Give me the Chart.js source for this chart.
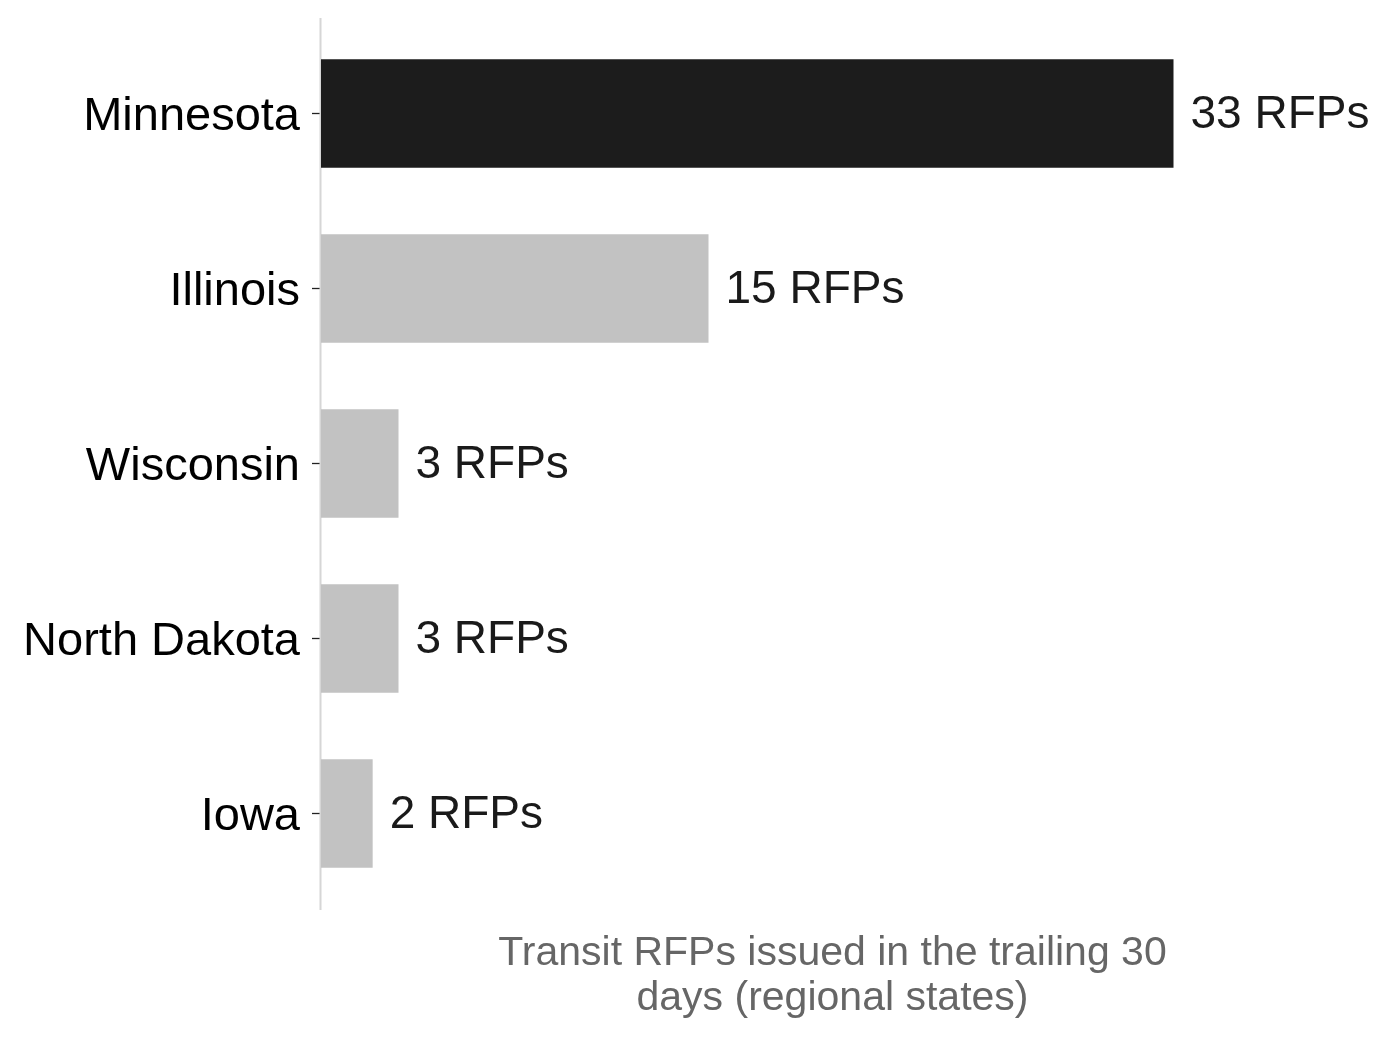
<!DOCTYPE html>
<html lang="en">
<head>
  <meta charset="UTF-8">
  <title>Transit RFPs by State</title>
  <script src="https://cdn.jsdelivr.net/npm/chart.js"></script>
  <style>
    html, body { margin: 0; padding: 0; background: #fff; }
    canvas { display: block; }
  </style>
</head>
<body>
  <canvas id="rfpChart" width="1389" height="1039"></canvas>

  <script>
    // Data
    const states = ['Minnesota', 'Illinois', 'Wisconsin', 'North Dakota', 'Iowa'];
    const rfpCounts = [33, 15, 3, 3, 2];
    const valueLabels = rfpCounts.map(v => v + ' RFPs');
    const barColors = ['#1c1c1c', '#c2c2c2', '#c2c2c2', '#c2c2c2', '#c2c2c2'];
    const axisTitle = ['Transit RFPs issued in the trailing 30', 'days (regional states)'];

    const FONT = "'Liberation Sans', Arial, Helvetica, sans-serif";

    // Left axis line runs a little past the plot area, like the original
    const axisLine = {
      id: 'axisLine',
      beforeDatasetsDraw(chart) {
        const { ctx, chartArea } = chart;
        ctx.save();
        ctx.strokeStyle = '#d6d6d6';
        ctx.lineWidth = 2;
        ctx.beginPath();
        ctx.moveTo(chartArea.left - 0.5, chartArea.top - 8);
        ctx.lineTo(chartArea.left - 0.5, chartArea.bottom + 9);
        ctx.stroke();
        ctx.restore();
      }
    };

    // "NN RFPs" text to the right of each bar
    const barLabels = {
      id: 'barLabels',
      afterDatasetsDraw(chart) {
        const { ctx } = chart;
        const meta = chart.getDatasetMeta(0);
        ctx.save();
        ctx.font = '46px ' + FONT;
        ctx.fillStyle = '#1a1a1a';
        ctx.textAlign = 'left';
        ctx.textBaseline = 'middle';
        meta.data.forEach((bar, i) => {
          ctx.fillText(valueLabels[i], bar.x + 17, bar.y + 2);
        });
        ctx.restore();
      }
    };

    const ctx = document.getElementById('rfpChart').getContext('2d');
    new Chart(ctx, {
      type: 'bar',
      data: {
        labels: states,
        datasets: [{
          data: rfpCounts,
          backgroundColor: barColors,
          borderWidth: 0,
          categoryPercentage: 1.0,
          barPercentage: 0.62
        }]
      },
      options: {
        indexAxis: 'y',
        responsive: false,
        animation: false,
        devicePixelRatio: 1,
        layout: { padding: { top: 26, right: 45, bottom: 0, left: 0 } },
        plugins: {
          legend: { display: false },
          tooltip: { enabled: false }
        },
        scales: {
          x: {
            min: 0,
            max: 39.6,
            grid: { display: false },
            border: { display: false },
            ticks: { display: false },
            title: {
              display: true,
              text: axisTitle,
              color: '#666666',
              font: { family: FONT, size: 41, lineHeight: 1.1 },
              padding: { top: 0, bottom: 18 }
            },
            afterFit(scale) { scale.height = 138; }
          },
          y: {
            grid: {
              display: true,
              offset: false,
              drawOnChartArea: false,
              drawTicks: true,
              tickLength: 9,
              tickColor: '#222222',
              tickWidth: 1.3
            },
            border: { display: false },
            ticks: {
              color: '#000000',
              padding: 12,
              labelOffset: 4,
              font: { family: FONT, size: 47 }
            },
            afterFit(scale) {
              scale.width = 321;
              scale.paddingTop = 0;
              scale.paddingBottom = 0;
            }
          }
        }
      },
      plugins: [axisLine, barLabels]
    });
  </script>
</body>
</html>
